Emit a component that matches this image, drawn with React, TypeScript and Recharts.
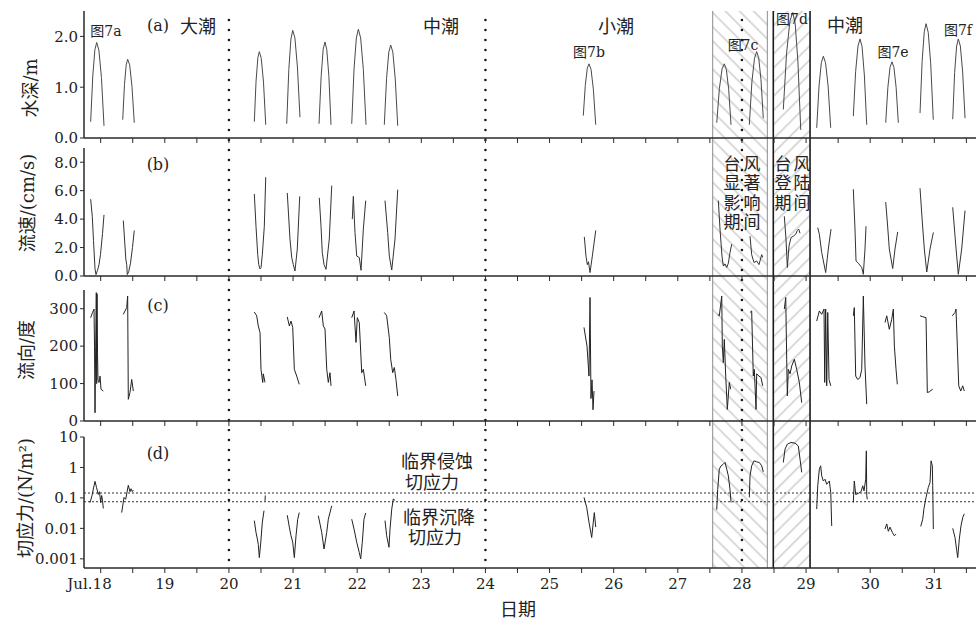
import React from 'react';
import { LineChart, Line, XAxis, YAxis, ReferenceArea, ReferenceLine } from 'recharts';

type Pt = [number, number];
type Row = { t: number; v: number | null };

// ---------- axis / reference values ----------
const halfDayTicks = [18, 18.5, 19, 19.5, 20, 20.5, 21, 21.5, 22, 22.5, 23, 23.5, 24, 24.5, 25, 25.5, 26, 26.5, 27, 27.5, 28, 28.5, 29, 29.5, 30, 30.5, 31, 31.5];
const tideBoundaries = [20, 24, 28];
const typhoonInfluence: [number, number] = [27.544, 28.396];
const typhoonLandfall: [number, number] = [28.489, 29.062];
const criticalStress = [0.145, 0.075];
const depthTicks = [0, 1, 2];
const speedTicks = [0, 2, 4, 6, 8];
const directionTicks = [0, 100, 200, 300];
const stressTicks = [0.001, 0.01, 0.1, 1, 10];

// ---------- series (day of July, value) ----------
const depthBursts: Pt[][] = [
  [[17.844, 0.32], [17.877, 1.22], [17.910, 1.74], [17.938, 1.88], [17.972, 1.73], [18.012, 1.19], [18.052, 0.24]],
  [[18.344, 0.36], [18.371, 1.05], [18.398, 1.44], [18.421, 1.55], [18.452, 1.44], [18.488, 1.02], [18.524, 0.30]],
  [[20.396, 0.32], [20.423, 1.12], [20.451, 1.58], [20.474, 1.70], [20.504, 1.57], [20.539, 1.10], [20.574, 0.26]],
  [[20.901, 0.28], [20.934, 1.35], [20.967, 1.95], [20.995, 2.12], [21.029, 1.97], [21.068, 1.40], [21.108, 0.41]],
  [[21.405, 0.28], [21.438, 1.21], [21.470, 1.75], [21.498, 1.89], [21.526, 1.74], [21.559, 1.21], [21.592, 0.26]],
  [[21.915, 0.28], [21.951, 1.36], [21.987, 1.97], [22.018, 2.14], [22.054, 1.97], [22.096, 1.35], [22.138, 0.26]],
  [[22.423, 0.26], [22.458, 1.17], [22.493, 1.69], [22.523, 1.83], [22.556, 1.69], [22.594, 1.16], [22.632, 0.24]],
  [[25.526, 0.44], [25.557, 1.03], [25.588, 1.37], [25.615, 1.46], [25.647, 1.35], [25.683, 0.96], [25.720, 0.26]],
  [[27.607, 0.30], [27.648, 0.97], [27.690, 1.36], [27.725, 1.46], [27.757, 1.35], [27.793, 0.96], [27.830, 0.26]],
  [[28.115, 0.26], [28.155, 1.10], [28.196, 1.57], [28.230, 1.70], [28.261, 1.58], [28.297, 1.15], [28.333, 0.39]],
  [[28.645, 0.56], [28.696, 1.67], [28.748, 2.30], [28.792, 2.47], [28.830, 2.26], [28.873, 1.50], [28.917, 0.16]],
  [[29.166, 0.20], [29.202, 1.02], [29.238, 1.48], [29.269, 1.61], [29.304, 1.48], [29.344, 1.02], [29.384, 0.20]],
  [[29.737, 0.43], [29.773, 1.31], [29.810, 1.81], [29.841, 1.95], [29.873, 1.80], [29.909, 1.24], [29.946, 0.26]],
  [[30.242, 0.30], [30.276, 1.00], [30.309, 1.39], [30.340, 1.50], [30.370, 1.39], [30.404, 1.00], [30.439, 0.30]],
  [[30.777, 0.49], [30.810, 1.51], [30.843, 2.09], [30.871, 2.25], [30.905, 2.08], [30.944, 1.46], [30.984, 0.36]],
  [[31.287, 0.37], [31.317, 1.29], [31.348, 1.81], [31.374, 1.95], [31.406, 1.81], [31.442, 1.30], [31.479, 0.39]],
];

const speedBursts: Pt[][] = [
  [[17.844, 5.4], [17.869, 4.2], [17.888, 2.5], [17.912, 0.5], [17.927, 0.1], [17.951, 0.4], [17.974, 0.8], [17.997, 1.5], [18.029, 3.0], [18.052, 4.3]],
  [[18.353, 3.9], [18.372, 2.6], [18.392, 1.2], [18.406, 0.8], [18.415, 0.1], [18.437, 0.3], [18.465, 0.9], [18.496, 2.0], [18.524, 3.2]],
  [[20.396, 5.77], [20.422, 3.5], [20.449, 1.5], [20.465, 0.8], [20.485, 0.5], [20.501, 0.6], [20.521, 1.5], [20.552, 3.5], [20.574, 6.95]],
  [[20.910, 5.84], [20.952, 2.6], [20.979, 1.3], [21.004, 0.8], [21.030, 0.35], [21.066, 1.9], [21.104, 5.6]],
  [[21.409, 5.5], [21.436, 3.5], [21.456, 1.65], [21.483, 0.8], [21.514, 0.47], [21.565, 2.6], [21.603, 6.35]],
  [[21.924, 4.0], [21.940, 5.6], [21.966, 3.06], [21.993, 1.4], [22.033, 1.3], [22.060, 0.4], [22.096, 3.3], [22.133, 5.3]],
  [[22.434, 5.3], [22.476, 3.06], [22.501, 1.4], [22.539, 0.42], [22.590, 2.6], [22.632, 6.07]],
  [[25.542, 2.75], [25.568, 1.4], [25.589, 0.8], [25.607, 1.0], [25.631, 0.24], [25.667, 1.4], [25.720, 3.2]],
  [[27.632, 5.3], [27.658, 3.3], [27.689, 1.4], [27.710, 0.7], [27.736, 0.85], [27.763, 0.6], [27.788, 0.9], [27.814, 1.65], [27.841, 2.24]],
  [[28.126, 2.8], [28.152, 1.5], [28.188, 0.95], [28.230, 1.06], [28.266, 0.8], [28.308, 1.5], [28.324, 1.3]],
  [[28.661, 4.2], [28.687, 2.6], [28.708, 0.6], [28.734, 2.1], [28.765, 2.7], [28.801, 2.8], [28.839, 2.94], [28.864, 3.2], [28.885, 3.3], [28.906, 3.0]],
  [[29.182, 3.4], [29.207, 2.94], [29.244, 1.65], [29.306, 0.24], [29.347, 1.9], [29.389, 3.3]],
  [[29.737, 6.1], [29.763, 3.3], [29.779, 1.06], [29.815, 0.9], [29.868, 0.6], [29.893, 0.12], [29.919, 1.9], [29.935, 3.5]],
  [[30.242, 5.2], [30.267, 3.8], [30.298, 1.9], [30.351, 0.52], [30.387, 1.9], [30.429, 3.1]],
  [[30.777, 6.17], [30.813, 3.8], [30.844, 1.9], [30.882, 0.28], [30.933, 1.9], [30.985, 3.06]],
  [[31.287, 4.83], [31.323, 2.8], [31.349, 1.4], [31.374, 0.12], [31.427, 1.9], [31.479, 4.6]],
];

const directionBursts: Pt[][] = [
  [[17.844, 276], [17.873, 290], [17.896, 299], [17.904, 200], [17.912, 22], [17.919, 150], [17.932, 343], [17.938, 100], [17.943, 340], [17.951, 180], [17.958, 110], [17.974, 103], [17.990, 120], [18.005, 85], [18.041, 80]],
  [[18.353, 285], [18.406, 303], [18.421, 334], [18.431, 58], [18.457, 76], [18.484, 111], [18.509, 80]],
  [[20.396, 291], [20.433, 281], [20.458, 254], [20.485, 236], [20.500, 138], [20.527, 103], [20.536, 126], [20.563, 103]],
  [[20.910, 278], [20.942, 254], [20.968, 267], [20.995, 250], [21.020, 138], [21.057, 120], [21.097, 98]],
  [[21.405, 276], [21.447, 294], [21.472, 254], [21.498, 246], [21.525, 138], [21.550, 103], [21.576, 129], [21.592, 94]],
  [[21.915, 276], [21.951, 294], [21.982, 210], [22.002, 276], [22.033, 263], [22.071, 129], [22.096, 138], [22.133, 94]],
  [[22.423, 290], [22.460, 281], [22.501, 223], [22.523, 165], [22.554, 129], [22.579, 143], [22.605, 111], [22.632, 67]],
  [[25.537, 250], [25.584, 200], [25.615, 120], [25.631, 330], [25.646, 60], [25.662, 110], [25.678, 30], [25.693, 80]],
  [[27.622, 285], [27.647, 281], [27.685, 334], [27.694, 200], [27.710, 156], [27.725, 218], [27.747, 120], [27.772, 31], [27.803, 103], [27.825, 85]],
  [[28.126, 290], [28.152, 294], [28.177, 120], [28.193, 138], [28.220, 31], [28.230, 126], [28.266, 120], [28.297, 116], [28.324, 94]],
  [[28.661, 299], [28.683, 330], [28.698, 165], [28.708, 67], [28.723, 138], [28.750, 126], [28.776, 147], [28.817, 165], [28.854, 138], [28.895, 103], [28.932, 49]],
  [[29.166, 267], [29.207, 294], [29.244, 285], [29.280, 299], [29.291, 103], [29.306, 299], [29.322, 94], [29.338, 290], [29.358, 111], [29.385, 94]],
  [[29.737, 281], [29.752, 303], [29.774, 120], [29.805, 111], [29.841, 116], [29.868, 138], [29.893, 334], [29.919, 147], [29.946, 45]],
  [[30.231, 263], [30.258, 281], [30.298, 245], [30.336, 272], [30.361, 299], [30.377, 200], [30.403, 138], [30.423, 98]],
  [[30.777, 281], [30.813, 279], [30.871, 276], [30.891, 76], [30.922, 78], [30.975, 85]],
  [[31.281, 281], [31.323, 290], [31.338, 299], [31.359, 200], [31.381, 94], [31.412, 80], [31.443, 94], [31.468, 80]],
];

const stressBursts: Pt[][] = [
  [[17.834, 0.07], [17.865, 0.12], [17.896, 0.25], [17.912, 0.35], [17.935, 0.22], [17.963, 0.13], [17.982, 0.16], [18.000, 0.07], [18.016, 0.12], [18.029, 0.08], [18.041, 0.045]],
  [[18.328, 0.033], [18.364, 0.104], [18.390, 0.09], [18.431, 0.26], [18.457, 0.16], [18.473, 0.2], [18.493, 0.16], [18.509, 0.18]],
  [[20.396, 0.018], [20.422, 0.0074], [20.443, 0.0045], [20.458, 0.003], [20.474, 0.0011], [20.496, 0.0033], [20.521, 0.016], [20.547, 0.038]],
  [[20.563, 0.08], [20.567, 0.12]],
  [[20.910, 0.027], [20.942, 0.011], [20.968, 0.0057], [20.995, 0.0035], [21.020, 0.0011], [21.046, 0.0057], [21.073, 0.02], [21.097, 0.033]],
  [[21.394, 0.026], [21.447, 0.0074], [21.483, 0.0021], [21.525, 0.0074], [21.550, 0.02], [21.603, 0.055]],
  [[21.915, 0.02], [21.951, 0.0095], [21.993, 0.0035], [22.033, 0.0016], [22.055, 0.001], [22.080, 0.0035], [22.106, 0.02], [22.133, 0.032]],
  [[22.434, 0.018], [22.460, 0.0057], [22.496, 0.0024], [22.512, 0.0095], [22.539, 0.043], [22.563, 0.092], [22.590, 0.083]],
  [[25.537, 0.104], [25.579, 0.049], [25.615, 0.016], [25.657, 0.005], [25.682, 0.016], [25.698, 0.033], [25.720, 0.011]],
  [[27.607, 0.041], [27.622, 0.19], [27.647, 0.88], [27.674, 1.13], [27.710, 1.28], [27.736, 1.46], [27.763, 0.88], [27.788, 0.53], [27.814, 0.19], [27.830, 0.071]],
  [[28.115, 0.104], [28.126, 0.53], [28.152, 1.13], [28.188, 1.65], [28.230, 1.53], [28.271, 1.46], [28.308, 1.13], [28.333, 0.72]],
  [[28.645, 1.46], [28.672, 4.0], [28.708, 5.8], [28.765, 6.6], [28.828, 6.3], [28.879, 5.1], [28.906, 1.87], [28.932, 0.69]],
  [[29.166, 0.043], [29.182, 0.25], [29.207, 0.88], [29.228, 1.13], [29.244, 0.53], [29.269, 0.36], [29.296, 0.41], [29.322, 0.28], [29.363, 0.36], [29.385, 0.15], [29.400, 0.012]],
  [[29.737, 0.071], [29.752, 0.36], [29.774, 0.13], [29.815, 0.14], [29.857, 0.16], [29.884, 0.25], [29.904, 0.17], [29.930, 0.41], [29.940, 3.5], [29.946, 0.12], [29.955, 0.09]],
  [[30.231, 0.0095], [30.258, 0.014], [30.283, 0.008], [30.309, 0.011], [30.345, 0.0074], [30.377, 0.0057], [30.403, 0.0065]],
  [[30.788, 0.0116], [30.819, 0.02], [30.839, 0.045], [30.871, 0.104], [30.906, 0.22], [30.933, 0.32], [30.949, 1.65], [30.969, 1.13], [30.975, 0.25], [30.985, 0.0095]],
  [[31.287, 0.01], [31.323, 0.005], [31.349, 0.0019], [31.365, 0.0011], [31.390, 0.0045], [31.416, 0.012], [31.443, 0.023], [31.468, 0.03]],
];

// ---------- layout ----------
const W = 976;
const X_DOMAIN: [number, number] = [17.74, 31.65];
const AXIS = '#2a2a2a';
const SERIF = "'DejaVu Serif', 'Noto Sans CJK SC', serif";
const CJK = "'Noto Sans CJK SC', 'DejaVu Sans', sans-serif";
const PAD = 8; // extra svg room below each upper panel so tick labels are not clipped

function toRows(segs: Pt[][]): Row[] {
  const rows: Row[] = [];
  segs.forEach((seg) => {
    seg.forEach(([t, v]) => rows.push({ t, v }));
    rows.push({ t: seg[seg.length - 1][0] + 0.0005, v: null });
  });
  return rows;
}

function hatchShape(kind: 'influence' | 'landfall', svgTop: number, extTop: number, extBottom: number) {
  return (p: any) => {
    if (!p || p.x == null) return <g />;
    const id = `hatch-${kind}-${svgTop}`;
    const y0 = p.y - extTop;
    const h = p.height + extTop + extBottom;
    const rot = kind === 'influence' ? -45 : 45;
    const edge = kind === 'influence' ? '#8c8c8c' : '#1a1a1a';
    const ew = kind === 'influence' ? 1 : 1.6;
    return (
      <g>
        <defs>
          <pattern id={id} patternUnits="userSpaceOnUse" width={10} height={10} patternTransform={`translate(0 ${-svgTop}) rotate(${rot})`}>
            <line x1={5} y1={-1} x2={5} y2={11} stroke="#b4b4b4" strokeWidth={1} />
          </pattern>
        </defs>
        <rect x={p.x} y={y0} width={p.width} height={h} fill={`url(#${id})`} stroke="none" />
        <line x1={p.x} x2={p.x} y1={y0} y2={y0 + h} stroke={edge} strokeWidth={ew} />
        <line x1={p.x + p.width} x2={p.x + p.width} y1={y0} y2={y0 + h} stroke={edge} strokeWidth={ew} />
      </g>
    );
  };
}

function dottedShape(svgTop: number, extTop: number, extBottom: number) {
  return (p: any) => {
    if (!p || p.x1 == null) return <g />;
    const x = p.x1;
    const ya = Math.min(p.y1, p.y2) - extTop;
    const yb = Math.max(p.y1, p.y2) + extBottom;
    return (
      <line x1={x} x2={x} y1={ya} y2={yb} stroke="#1a1a1a" strokeWidth={2.6} strokeLinecap="round"
        strokeDasharray="0 10" strokeDashoffset={(svgTop + ya) % 10} />
    );
  };
}

const EmptyTick = () => <g />;

const DayTick = (props: any) => {
  const { x, y, payload } = props;
  const v = payload.value as number;
  if (Math.abs(v - Math.round(v)) > 1e-6) return <g />;
  const isFirst = v === 18;
  return (
    <text x={isFirst ? x + 11 : x} y={y} dy={14} textAnchor={isFirst ? 'end' : 'middle'}
      fontFamily={SERIF} fontSize={15} fill="#222">
      {isFirst ? 'Jul.18' : String(v)}
    </text>
  );
};

type PanelCfg = {
  svgTop: number;
  height: number;
  marginTop: number;
  marginBottom: number;
  axisHeight: number;
  extTop: number;
  extBottom: number;
  rows: Row[];
  yDomain: [number, number];
  yTicks: number[];
  yScale: 'linear' | 'log';
  yFmt: (v: number) => string;
  stroke: string;
  last?: boolean;
};

function Panel(cfg: PanelCfg) {
  const { svgTop, height, marginTop, marginBottom, axisHeight, extTop, extBottom, rows, yDomain, yTicks, yScale, yFmt, stroke, last } = cfg;
  return (
    <div style={{ position: 'absolute', left: 0, top: svgTop, width: W, height }}>
      <LineChart width={W} height={height} data={rows} margin={{ top: marginTop, right: 0, bottom: marginBottom, left: 0 }}>
        <XAxis xAxisId="top" orientation="top" type="number" dataKey="t" domain={X_DOMAIN} height={0}
          tick={false} tickLine={false} axisLine={{ stroke: AXIS, strokeWidth: 1.5 }} allowDataOverflow />
        <XAxis type="number" dataKey="t" domain={X_DOMAIN} ticks={halfDayTicks} interval={0} height={axisHeight}
          tickSize={5} tickMargin={2} tickLine={{ stroke: AXIS }} axisLine={{ stroke: AXIS, strokeWidth: 1.3 }}
          tick={last ? DayTick : EmptyTick} allowDataOverflow />
        <YAxis type="number" domain={yDomain} scale={yScale} ticks={yTicks} interval={0} width={84}
          tickSize={4} tickMargin={2} tickFormatter={yFmt}
          tick={{ fontFamily: SERIF, fontSize: 15, fill: '#222' }}
          axisLine={{ stroke: AXIS, strokeWidth: 1.5 }} tickLine={{ stroke: AXIS }} allowDataOverflow />
        <ReferenceArea x1={typhoonInfluence[0]} x2={typhoonInfluence[1]} shape={hatchShape('influence', svgTop, extTop, extBottom)} />
        <ReferenceArea x1={typhoonLandfall[0]} x2={typhoonLandfall[1]} shape={hatchShape('landfall', svgTop, extTop, extBottom)} />
        {tideBoundaries.map((d) => (
          <ReferenceLine key={`tb${d}`} x={d} shape={dottedShape(svgTop, extTop, extBottom)} />
        ))}
        {last
          ? criticalStress.map((c) => (
              <ReferenceLine key={`cs${c}`} y={c} stroke="#333" strokeWidth={1} strokeDasharray="2 2" />
            ))
          : null}
        <Line type="linear" dataKey="v" stroke={stroke} strokeWidth={1} dot={false} activeDot={false}
          connectNulls={false} isAnimationActive={false} />
      </LineChart>
    </div>
  );
}

const fixed1 = (v: number) => v.toFixed(1);
const plain = (v: number) => String(v);

type Txt = { s: string; x: number; y: number; size: number; font?: string };

const annotations: Txt[] = [
  { s: '图7a', x: 106, y: 31, size: 14, font: SERIF },
  { s: '(a)', x: 158, y: 25, size: 16, font: SERIF },
  { s: '大潮', x: 198, y: 25, size: 18 },
  { s: '中潮', x: 441, y: 25, size: 18 },
  { s: '小潮', x: 616, y: 25, size: 18 },
  { s: '图7b', x: 589, y: 52, size: 14, font: SERIF },
  { s: '图7c', x: 743, y: 45, size: 14, font: SERIF },
  { s: '图7d', x: 792, y: 19, size: 14, font: SERIF },
  { s: '中潮', x: 845, y: 24, size: 18 },
  { s: '图7e', x: 893, y: 52, size: 14, font: SERIF },
  { s: '图7f', x: 958, y: 30, size: 14, font: SERIF },
  { s: '(b)', x: 158, y: 164, size: 16, font: SERIF },
  { s: '(c)', x: 158, y: 305, size: 16, font: SERIF },
  { s: '(d)', x: 158, y: 453, size: 16, font: SERIF },
  { s: '临界侵蚀', x: 437, y: 460, size: 18 },
  { s: '切应力', x: 432, y: 481, size: 18 },
  { s: '临界沉降', x: 439, y: 516, size: 18 },
  { s: '切应力', x: 435, y: 536, size: 18 },
  { s: '日期', x: 518, y: 608, size: 18 },
];

const influenceText = ['台风', '显著', '影响', '期间'];
const landfallText = ['台风', '登陆', '期间'];
const rowY = [162, 181.5, 201, 220.5];

const yLabels: Txt[] = [
  { s: '水深/m', x: 30, y: 88, size: 18, font: SERIF },
  { s: '流速/(cm/s)', x: 27, y: 203, size: 18, font: SERIF },
  { s: '流向/度', x: 26, y: 350, size: 18, font: SERIF },
  { s: '切应力/(N/m²)', x: 25, y: 498, size: 18, font: SERIF },
];

export default function App() {
  const depthRows = toRows(depthBursts);
  const speedRows = toRows(speedBursts);
  const dirRows = toRows(directionBursts);
  const stressRows = toRows(stressBursts);

  return (
    <div style={{ position: 'absolute', left: 0, top: 0, width: W, height: 622, background: '#fff', overflow: 'hidden' }}>
      <Panel svgTop={0} height={143 + PAD} marginTop={11} marginBottom={PAD} axisHeight={5} extTop={0} extBottom={5}
        rows={depthRows} yDomain={[0, 2.5]} yTicks={depthTicks} yScale="linear" yFmt={fixed1} stroke="#4a4a4a" />
      <Panel svgTop={143} height={140 + PAD} marginTop={5} marginBottom={PAD} axisHeight={7} extTop={5} extBottom={7}
        rows={speedRows} yDomain={[0, 9]} yTicks={speedTicks} yScale="linear" yFmt={fixed1} stroke="#333" />
      <Panel svgTop={283} height={146 + PAD} marginTop={7} marginBottom={PAD} axisHeight={8} extTop={7} extBottom={8}
        rows={dirRows} yDomain={[0, 350]} yTicks={directionTicks} yScale="linear" yFmt={plain} stroke="#222" />
      <Panel svgTop={429} height={193} marginTop={8} marginBottom={0} axisHeight={54} extTop={8} extBottom={0}
        rows={stressRows} yDomain={[0.0005, 10]} yTicks={stressTicks} yScale="log" yFmt={plain} stroke="#222" last />
      <svg width={W} height={622} style={{ position: 'absolute', left: 0, top: 0, pointerEvents: 'none' }}>
        {annotations.map((a, i) => (
          <text key={`an${i}`} x={a.x} y={a.y} fontSize={a.size} fontFamily={a.font || CJK} fill="#222"
            textAnchor="middle" dominantBaseline="central">{a.s}</text>
        ))}
        {influenceText.map((row, r) =>
          row.split('').map((ch, c) => (
            <text key={`it${r}${c}`} x={732 + c * 20} y={rowY[r]} fontSize={17} fontFamily={CJK} fill="#222"
              textAnchor="middle" dominantBaseline="central">{ch}</text>
          )),
        )}
        {landfallText.map((row, r) =>
          row.split('').map((ch, c) => (
            <text key={`lt${r}${c}`} x={783 + c * 19} y={rowY[r]} fontSize={17} fontFamily={CJK} fill="#222"
              textAnchor="middle" dominantBaseline="central">{ch}</text>
          )),
        )}
        {yLabels.map((l, i) => (
          <text key={`yl${i}`} x={l.x} y={l.y} fontSize={l.size} fontFamily={l.font || CJK} fill="#222"
            textAnchor="middle" dominantBaseline="central" transform={`rotate(-90 ${l.x} ${l.y})`}>{l.s}</text>
        ))}
      </svg>
    </div>
  );
}
